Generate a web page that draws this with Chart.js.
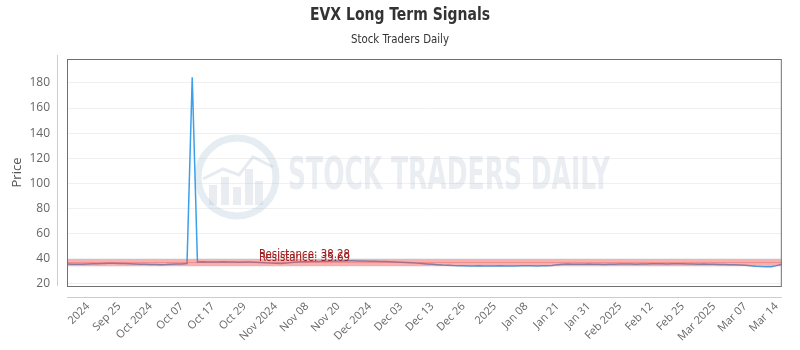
<!DOCTYPE html>
<html>
<head>
<meta charset="utf-8">
<script src="https://cdn.jsdelivr.net/npm/chart.js@4"></script>
<style>
  html, body { margin: 0; padding: 0; background: #ffffff; }
  canvas { display: block; }
</style>
</head>
<body>
<canvas id="c" width="800" height="350"></canvas>
<script>
// ---------- data ----------
const titleText = "EVX Long Term Signals";
const subtitleText = "Stock Traders Daily";
const yAxisTitle = "Price";
const watermarkText = "STOCK TRADERS DAILY";

const tickLabels = ["2024","Sep 25","Oct 2024","Oct 07","Oct 17","Oct 29","Nov 2024","Nov 08","Nov 20",
  "Dec 2024","Dec 03","Dec 13","Dec 26","2025","Jan 08","Jan 21","Jan 31","Feb 2025","Feb 12","Feb 25",
  "Mar 2025","Mar 07","Mar 14"];
const tickFirstIndex = 4;
const tickEvery = 6;

const prices = [
  35.9, 35.8, 35.7, 35.8, 36.0, 36.1, 36.2,
  36.4, 36.5, 36.5, 36.4, 36.3, 36.2,
  36.0, 35.8, 35.7, 35.6, 35.5, 35.4, 35.5,
  35.7, 35.9, 36.0,
  36.3, 184.5, 37.5,
  37.6, 37.5, 37.4, 37.5, 37.6, 37.5, 37.4, 37.3, 37.4, 37.5, 37.3, 37.1, 36.8, 36.6, 36.5,
  36.4, 36.6, 37.0, 37.4, 37.6, 37.7, 37.8,
  37.9, 38.0, 38.1, 38.2, 38.3, 38.3, 38.4, 38.4, 38.3, 38.2, 38.1, 38.0, 37.9,
  37.8, 37.6, 37.4, 37.2, 37.0, 36.8, 36.6, 36.3, 36.0, 35.7, 35.4, 35.1, 34.9, 34.7, 34.6,
  34.5, 34.4, 34.4, 34.5, 34.4, 34.3, 34.4, 34.5, 34.4, 34.3, 34.4, 34.5, 34.6, 34.5, 34.4, 34.5, 34.6, 34.8,
  35.4, 35.8, 35.9, 35.8, 35.7, 35.8, 35.9, 35.8, 35.7, 35.6, 35.7, 35.8, 35.9, 36.0, 35.9, 35.8, 35.9, 36.0,
  36.1, 36.2, 36.1, 36.0, 36.1, 36.2, 36.1, 36.0, 35.9, 35.8, 35.9, 35.8, 35.7, 35.6, 35.5, 35.4, 35.3, 35.2, 35.0,
  34.6, 34.2, 33.9, 33.7, 33.8, 34.6, 35.8
];

const resistanceLevels = [38.28, 35.69];
const resistanceLabelIndex = 36.4;

const yTicks = [20, 40, 60, 80, 100, 120, 140, 160, 180];
const yMin = 18.4;
const yMax = 199;

// categories: one per price point, tick label text at every tickEvery-th point
const categories = prices.map((_, i) => {
  const k = (i - tickFirstIndex) / tickEvery;
  return (i >= tickFirstIndex && Number.isInteger(k) && k < tickLabels.length) ? tickLabels[k] : "";
});

const condensedFont = '"Liberation Sans Narrow", "DejaVu Sans Condensed", "Roboto", sans-serif';

function drawFitted(ctx, text, x, y, width) {
  const w = ctx.measureText(text).width;
  ctx.save(); ctx.translate(x, y); ctx.scale(width / w, 1); ctx.fillText(text, 0, 0); ctx.restore();
}

const decorPlugin = {
  id: 'decor',
  beforeDatasetsDraw(chart) {
    const ctx = chart.ctx;
    const a = chart.chartArea;
    // watermark
    ctx.save();
    const cx = a.left + 170, cy = a.top + 118, r = 39;
    ctx.strokeStyle = 'rgba(170,195,215,0.30)';
    ctx.lineWidth = 7;
    ctx.beginPath(); ctx.arc(cx, cy, r, 0, Math.PI * 2); ctx.stroke();
    ctx.fillStyle = 'rgba(170,185,200,0.26)';
    const bars = [[-24, 14], [-12, 22], [0, 12], [12, 30], [22, 18]];
    bars.forEach(b => ctx.fillRect(cx + b[0] - 4, cy + 28 - b[1] - 6, 8, b[1] + 6));
    ctx.strokeStyle = 'rgba(170,190,210,0.30)';
    ctx.lineWidth = 3;
    ctx.beginPath();
    ctx.moveTo(cx - 34, cy + 2); ctx.lineTo(cx - 14, cy - 8); ctx.lineTo(cx + 2, cy - 2);
    ctx.lineTo(cx + 16, cy - 20); ctx.lineTo(cx + 36, cy - 10);
    ctx.stroke();
    ctx.fillStyle = 'rgba(175,190,205,0.26)';
    ctx.font = 'bold 44px ' + condensedFont;
    ctx.textBaseline = 'middle';
    ctx.textAlign = 'left';
    drawFitted(ctx, watermarkText, a.left + 221, cy + 1, 322);
    ctx.restore();
  },
  afterDatasetsDraw(chart) {
    const ctx = chart.ctx;
    const a = chart.chartArea;
    const ys = chart.scales.y, xs = chart.scales.x;
    ctx.save();
    ctx.beginPath(); ctx.rect(a.left, a.top, a.right - a.left, a.bottom - a.top); ctx.clip();
    ctx.strokeStyle = 'rgba(235,80,80,0.45)';
    ctx.lineWidth = 4;
    resistanceLevels.forEach(v => {
      const y = ys.getPixelForValue(v);
      ctx.beginPath(); ctx.moveTo(a.left, y); ctx.lineTo(a.right, y); ctx.stroke();
    });
    ctx.restore();
    ctx.save();
    ctx.font = '12px ' + condensedFont;
    ctx.fillStyle = '#a11f1f';
    ctx.textAlign = 'left';
    ctx.textBaseline = 'alphabetic';
    const lx = xs.getPixelForValue(resistanceLabelIndex) + 2;
    resistanceLevels.forEach(v => {
      const y = ys.getPixelForValue(v);
      drawFitted(ctx, 'Resistance: ' + v.toFixed(2), lx, y - 3, 91);
    });
    ctx.restore();
  },
  afterDraw(chart) {
    const ctx = chart.ctx;
    const a = chart.chartArea;
    ctx.save();
    // plot border
    ctx.strokeStyle = '#707070';
    ctx.lineWidth = 1;
    ctx.strokeRect(a.left + 0.5, a.top + 0.5, a.right - a.left - 1, a.bottom - a.top);
    // offset axis lines
    ctx.strokeStyle = '#cccccc';
    ctx.beginPath(); ctx.moveTo(a.left - 9.5, a.top - 4); ctx.lineTo(a.left - 9.5, a.bottom); ctx.stroke();
    ctx.beginPath(); ctx.moveTo(a.left, a.bottom + 11.5); ctx.lineTo(a.right, a.bottom + 11.5); ctx.stroke();
    // titles
    ctx.fillStyle = '#333333';
    ctx.textAlign = 'center';
    ctx.textBaseline = 'middle';
    ctx.font = 'bold 18px ' + condensedFont;
    drawFitted(ctx, titleText, 400, 15, 180);
    ctx.font = '13px ' + condensedFont;
    drawFitted(ctx, subtitleText, 400, 40, 98);
    ctx.restore();
  }
};

new Chart(document.getElementById('c'), {
  type: 'line',
  data: {
    labels: categories,
    datasets: [{
      data: prices,
      borderColor: '#3aa0ea',
      borderWidth: 1.5,
      pointRadius: 0,
      tension: 0,
      fill: false
    }]
  },
  options: {
    responsive: false,
    animation: false,
    events: [],
    layout: { padding: { top: 59, right: 10, left: 0, bottom: 0 } },
    plugins: { legend: { display: false }, title: { display: false }, tooltip: { enabled: false } },
    scales: {
      x: {
        type: 'category',
        offset: false,
        grid: { display: false, drawTicks: false },
        border: { display: false },
        ticks: {
          autoSkip: false,
          maxRotation: 45,
          minRotation: 45,
          padding: 14,
          color: '#666666',
          font: { family: '"Open Sans", sans-serif', size: 11 },
          callback: function (val) { const s = this.getLabelForValue(val); return s === "" ? null : s; }
        },
        afterFit(scale) { scale.height = 64; }
      },
      y: {
        min: yMin,
        max: yMax,
        grid: { color: '#f0f0f0', drawTicks: false },
        border: { display: false },
        ticks: { padding: 17, color: '#666666', font: { family: '"Open Sans", sans-serif', size: 12 } },
        afterBuildTicks(scale) { scale.ticks = yTicks.map(v => ({ value: v })); },
        afterFit(scale) { scale.width = 67; },
        title: { display: true, text: yAxisTitle, color: '#555555', font: { family: '"Open Sans", sans-serif', size: 13 }, padding: { top: 9, bottom: 0 } }
      }
    }
  },
  plugins: [decorPlugin]
});
</script>
</body>
</html>
